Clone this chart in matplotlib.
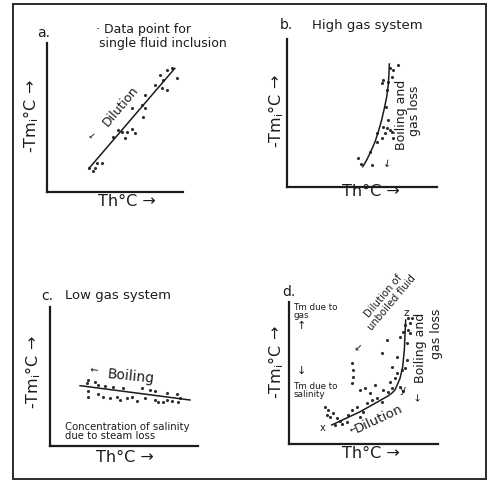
import numpy as np
import matplotlib
matplotlib.use("Agg")
import matplotlib.pyplot as plt
from matplotlib.patches import Rectangle

plt.rcParams['font.family'] = ['DejaVu Sans']
plt.rcParams['mathtext.default'] = 'regular'

W = H = 488
INK = '#1c1c1c'

# a. single fluid inclusions along a dilution trend (Th, -Tm in relative units)
a_th = [31.1, 34.0, 35.3, 36.5, 40.2, 48.8, 52.4, 54.9, 57.4, 58.6, 62.3, 64.7,
        62.3, 69.6, 72.1, 70.8, 72.1, 79.4, 84.3, 88.0, 83.1, 88.0, 85.5, 95.4, 91.7]
a_tm = [15.9, 14.3, 15.9, 19.2, 19.3, 37.1, 41.6, 40.5, 36.5, 40.5, 42.3, 39.4,
        56.2, 58.4, 56.2, 50.5, 65.1, 71.8, 69.6, 68.5, 78.5, 81.9, 75.2, 76.3, 83.0]
a_fit_th = [31, 94]
a_fit_tm = [16, 83]

# b. high gas system: boiling and gas loss
b_th = [47.5, 49.1, 56.5, 55.3, 60.2, 59.8, 63.1, 65.3, 66.4, 68.7, 67.5, 69.8,
        70.9, 64.2, 66.0, 66.4, 64.2, 63.1, 67.5, 69.8, 70.9, 74.2, 68.7]
b_tm = [19.4, 15.5, 14.9, 23.9, 30.6, 36.3, 32.9, 36.3, 39.7, 38.5, 45.3, 37.4,
        32.9, 40.7, 54.3, 65.5, 72.3, 70.1, 71.2, 74.5, 79.1, 82.4, 80.2]
b_curve_th = [50.5, 53.1, 55.8, 58.7, 60.9, 63.1, 64.9, 66.5, 67.5, 68.0, 68.2]
b_curve_tm = [13.7, 18.2, 23.8, 30.6, 37.4, 45.3, 53.2, 61.0, 68.9, 76.8, 83.1]

# c. low gas system: boiling concentrates salinity
c_th = [25.9, 30.4, 24.8, 32.6, 37.2, 42.8, 49.5, 62.0, 67.6, 70.9, 78.8, 85.6,
        25.9, 25.9, 32.6, 36.0, 40.5, 45.1, 47.3, 51.8, 55.2, 58.6, 64.2, 70.9,
        73.2, 76.6, 78.8, 82.2, 86.7, 87.8]
c_tm = [47.5, 46.3, 45.1, 43.9, 43.2, 42.2, 41.5, 41.5, 40.3, 39.6, 37.9, 37.2,
        39.6, 35.5, 37.2, 35.5, 34.3, 35.0, 33.3, 34.3, 35.5, 32.4, 34.3, 33.1,
        31.9, 31.4, 33.1, 32.6, 31.9, 34.7]
c_fit_th = [20.3, 94.6]
c_fit_tm = [43.4, 33.1]

# d. dilution (x -> y) followed by boiling and gas loss (y -> z)
d_th = [24.2, 26.4, 25.3, 27.5, 29.7, 32.0, 34.2, 30.9, 35.4, 38.7, 39.8, 42.1,
        45.4, 47.7, 49.9, 52.1, 55.5, 58.9, 62.2, 63.3, 66.6, 68.9, 67.8, 71.1,
        72.3, 74.5, 76.7, 43.2, 42.1, 43.2, 42.1, 47.7, 51.0, 54.4, 57.7, 62.2,
        65.6, 68.9, 72.3, 74.5, 76.7, 80.1, 81.2, 79.0, 77.9, 81.2, 82.3, 80.1,
        79.0, 77.9, 75.6]
d_tm = [26.3, 23.9, 20.4, 19.2, 21.6, 18.1, 16.4, 13.4, 14.1, 15.7, 20.4, 23.9,
        26.3, 19.2, 22.7, 28.7, 31.0, 32.2, 29.8, 38.0, 36.8, 39.2, 43.9, 46.3,
        49.8, 40.4, 37.5, 47.4, 42.7, 52.1, 56.8, 38.0, 39.2, 35.7, 41.5, 63.9,
        73.2, 54.4, 61.5, 75.6, 79.1, 80.3, 78.0, 70.9, 83.8, 85.0, 88.5, 88.5,
        59.2, 53.3, 52.1]
d_curve_th = [28.7, 47.7, 65.6, 69.0, 71.1, 74.5, 76.3, 77.4, 77.9, 78.3]
d_curve_tm = [13.4, 22.7, 33.3, 35.8, 38.0, 46.2, 54.4, 66.2, 78.0, 87.3]

fig = plt.figure(figsize=(W / 100, H / 100), dpi=100)


def px(x, y):
    return x / W, 1 - y / H


def panel(left, top, right, bottom):
    ax = fig.add_axes([left / W, 1 - bottom / H, (right - left) / W, (bottom - top) / H])
    ax.set_xlim(0, 100)
    ax.set_ylim(0, 100)
    for side in ('top', 'right'):
        ax.spines[side].set_visible(False)
    for side in ('left', 'bottom'):
        ax.spines[side].set_linewidth(1.6)
        ax.spines[side].set_color(INK)
        ax.spines[side].set_capstyle('projecting')
    ax.set_xticks([])
    ax.set_yticks([])
    ax.patch.set_alpha(0)
    return ax


def dots(ax, th, tm):
    ax.scatter(th, tm, s=5, color='#2e2e2e', linewidths=0, clip_on=False)


def ftext(x, y, s, **kw):
    kw.setdefault('color', INK)
    fig.text(*px(x, y), s, **kw)


ylab = '-Tm$_{i}$°C →'
xlab = 'Th°C →'
LAB = 11.5
TITLE = 9.5

# ---- a ----
ax = panel(47, 43, 183, 192)
dots(ax, a_th, a_tm)
ax.plot(a_fit_th, a_fit_tm, color=INK, lw=1.1)
ax.text(54.3, 57.9, 'Dilution', rotation=50, fontsize=9, ha='center', va='center', color=INK)
ax.text(32.9, 38.3, '←', rotation=40, fontsize=6, ha='center', va='center', color=INK)
ftext(44, 33, 'a.', fontsize=10, ha='center', va='center')
ftext(96, 29, '· Data point for', fontsize=9, ha='left', va='center')
ftext(99, 43, 'single fluid inclusion', fontsize=9, ha='left', va='center')
ftext(127, 202, xlab, fontsize=LAB, ha='center', va='center')
ftext(31, 116, ylab, fontsize=LAB, rotation=90, ha='center', va='center')

# ---- b ----
ax = panel(287, 39, 437, 187)
dots(ax, b_th, b_tm)
ax.plot(b_curve_th, b_curve_tm, color=INK, lw=1.1)
ax.text(76.0, 48.6, 'Boiling and', rotation=90, fontsize=9, ha='center', va='center', color=INK)
ax.text(84.7, 51.4, 'gas loss', rotation=90, fontsize=9, ha='center', va='center', color=INK)
ax.text(68.0, 16.2, '←', rotation=80, fontsize=7, ha='center', va='center', color=INK)
ftext(286, 25, 'b.', fontsize=10, ha='center', va='center')
ftext(312, 25, 'High gas system', fontsize=TITLE, ha='left', va='center')
ftext(371, 192, xlab, fontsize=LAB, ha='center', va='center')
ftext(276, 111, ylab, fontsize=LAB, rotation=90, ha='center', va='center')

# ---- c ----
ax = panel(50, 307, 198, 446)
dots(ax, c_th, c_tm)
ax.plot(c_fit_th, c_fit_tm, color=INK, lw=1.1)
ax.text(54.6, 49.9, 'Boiling', rotation=-6, fontsize=10, ha='center', va='center', color=INK)
ax.text(29.7, 54.0, '←', rotation=-6, fontsize=7, ha='center', va='center', color=INK)
ax.text(10.1, 13.7, 'Concentration of salinity', fontsize=7.3, ha='left', va='center', color=INK)
ax.text(10.1, 7.2, 'due to steam loss', fontsize=7.3, ha='left', va='center', color=INK)
ftext(47, 296, 'c.', fontsize=10, ha='center', va='center')
ftext(65, 296, 'Low gas system', fontsize=TITLE, ha='left', va='center')
ftext(125, 457, xlab, fontsize=LAB, ha='center', va='center')
ftext(33, 372, ylab, fontsize=LAB, rotation=90, ha='center', va='center')

# ---- d ----
ax = panel(289, 302, 438, 444)
dots(ax, d_th, d_tm)
ax.plot(d_curve_th, d_curve_tm, color=INK, lw=1.1)
small = dict(fontsize=6.3, ha='left', va='center', color=INK, clip_on=False)
ax.text(2.7, 96.3, 'Tm due to', **small)
ax.text(2.7, 90.8, 'gas', **small)
ax.text(2.7, 40.8, 'Tm due to', **small)
ax.text(2.7, 35.2, 'salinity', **small)
ax.text(8.0, 83.1, '↑', fontsize=8, ha='center', va='center', color=INK)
ax.text(8.0, 51.4, '↓', fontsize=8, ha='center', va='center', color=INK)
ax.text(66, 102, 'Dilution of\nunboiled fluid', rotation=50, fontsize=7.3, ha='center',
        va='center', color=INK, linespacing=1.1, clip_on=False)
ax.text(47, 68, '←', rotation=45, fontsize=7, ha='center', va='center', color=INK)
ax.text(88.3, 67.6, 'Boiling and', rotation=90, fontsize=9, ha='center', va='center', color=INK,
        clip_on=False)
ax.text(99.3, 77.5, 'gas loss', rotation=90, fontsize=9, ha='center', va='center', color=INK,
        clip_on=False)
ax.text(87.2, 33.0, '←', rotation=90, fontsize=7, ha='center', va='center', color=INK)
ax.text(60.0, 17.6, 'Dilution', rotation=25, fontsize=9.5, ha='center', va='center', color=INK)
ax.text(43.2, 10.4, '←', rotation=25, fontsize=6, ha='center', va='center', color=INK)
ax.text(22.6, 11.0, 'x', fontsize=7, ha='center', va='center', color=INK)
ax.text(76.3, 38.0, 'y', fontsize=7.5, ha='center', va='center', color=INK)
ax.text(78.5, 92.0, 'z', fontsize=7.5, ha='center', va='center', color=INK)
ftext(289, 292, 'd.', fontsize=10, ha='center', va='center')
ftext(371, 454, xlab, fontsize=LAB, ha='center', va='center')
ftext(276, 362, ylab, fontsize=LAB, rotation=90, ha='center', va='center')

# outer frame
fig.add_artist(Rectangle(px(13, 479), (486 - 13) / W, (479 - 4) / H, transform=fig.transFigure,
                         fill=False, edgecolor='#2a2a2a', lw=1.4))

fig.savefig('out.png', dpi=100, facecolor='white')
